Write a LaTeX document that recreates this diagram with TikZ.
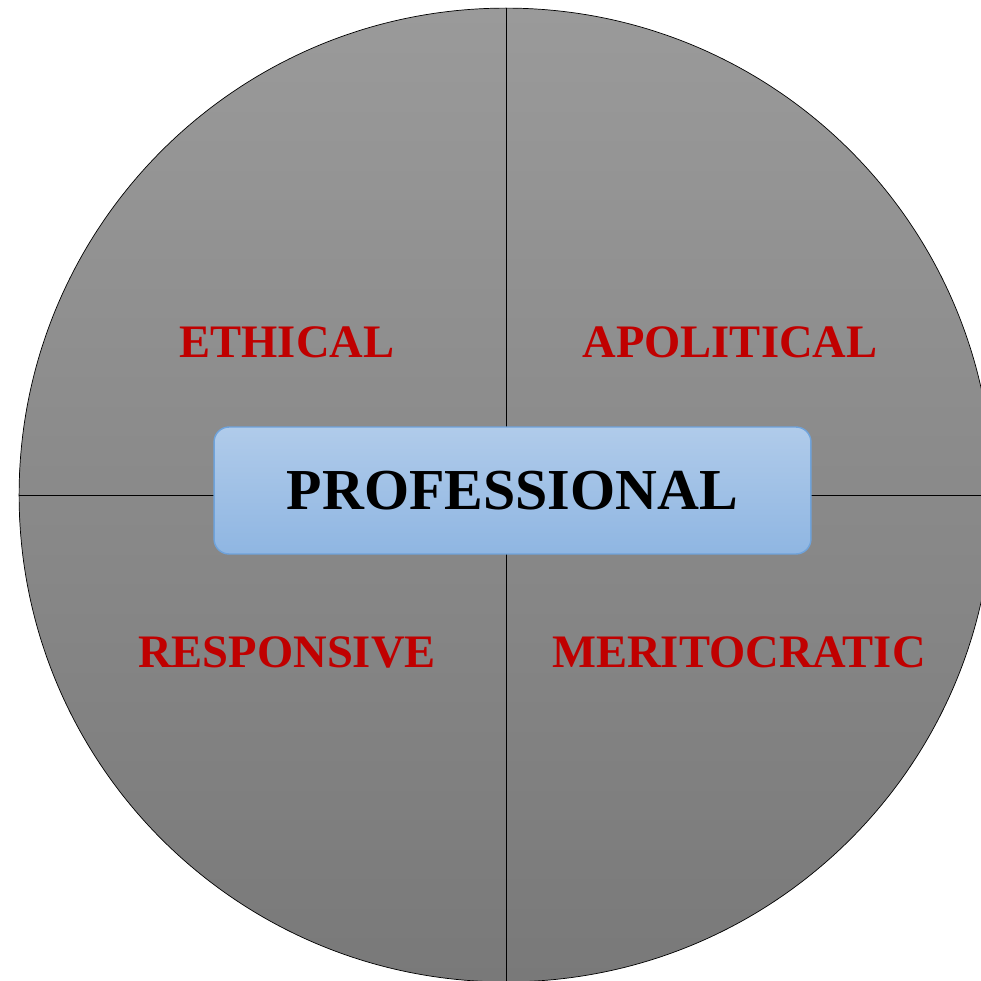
\documentclass[tikz,border=0pt]{standalone}
\usepackage{fontspec}
\setmainfont{Liberation Serif}
\usetikzlibrary{shapes.geometric}

\definecolor{discTop}{HTML}{9A9A9A}
\definecolor{discBot}{HTML}{797979}
\definecolor{boxTop}{HTML}{B0CBEA}
\definecolor{boxBot}{HTML}{8FB6E2}
\definecolor{boxLine}{HTML}{6FA3DB}
\definecolor{quadRed}{HTML}{C00000}

\begin{document}
\begin{tikzpicture}
[x=0.02cm,y=-0.02cm,%
  quadlabel/.style={text=quadRed,font=\bfseries\fontsize{26.5}{30}\selectfont,inner sep=0pt},
  centerbox/.style={rounded corners=0.3cm,draw=boxLine,thick,top color=boxTop,bottom color=boxBot,
    minimum width=11.94cm,minimum height=2.54cm,font=\bfseries\fontsize{33}{37}\selectfont}]
\useasboundingbox (0,0) rectangle (981,981);
\clip (0,0) rectangle (981,981);
% the disc and its cross
\node[circle,draw,inner sep=0pt,minimum size=19.48cm,top color=discTop,bottom color=discBot]
  (disc) at (506,495) {};
\draw (disc.north) -- (disc.south);
\draw (disc.west) -- (disc.east);
% the four quarters
\node[quadlabel] (ethical) at (287,342) {ETHICAL};
\node[quadlabel] (apolitical) at (730,342) {APOLITICAL};
\node[quadlabel] (responsive) at (287,652) {RESPONSIVE};
\node[quadlabel] (merit) at (739,652) {MERITOCRATIC};
% the centre
\node[centerbox] (prof) at (512.5,490.5) {PROFESSIONAL};
\end{tikzpicture}
\end{document}
